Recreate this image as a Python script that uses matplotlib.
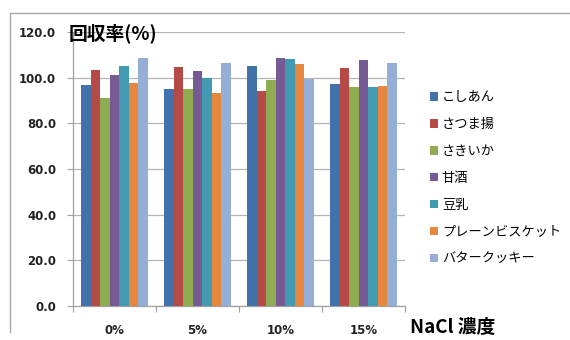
import matplotlib
matplotlib.use("Agg")
import matplotlib.pyplot as plt
from matplotlib.lines import Line2D
from matplotlib.patches import Patch
import numpy as np

plt.rcParams['font.family'] = ['Noto Sans CJK JP', 'DejaVu Sans']

categories = ["0%", "5%", "10%", "15%"]
series_names = ["こしあん", "さつま揚", "さきいか", "甘酒", "豆乳", "プレーンビスケット", "バタークッキー"]
koshian = [96.9, 95.2, 105.0, 97.4]
satsumaage = [103.4, 104.5, 94.0, 104.4]
sakiika = [90.9, 95.2, 99.0, 95.8]
amazake = [101.2, 102.8, 108.8, 107.8]
tounyu = [105.3, 99.9, 108.3, 95.8]
plain_biscuit = [97.7, 93.1, 106.0, 96.2]
butter_cookie = [108.6, 106.6, 99.3, 106.3]
series_values = [koshian, satsumaage, sakiika, amazake, tounyu, plain_biscuit, butter_cookie]
colors = ["#4272AC", "#B54A46", "#8FAD50", "#755A93", "#4199B2", "#E6873F", "#95AED6"]
y_ticks = [0, 20, 40, 60, 80, 100, 120]

fig = plt.figure(figsize=(5.7, 3.4), dpi=100)
ax = fig.add_axes([0.128, 0.1, 0.5825, 0.806])

n = len(series_names)
group_w = 0.8
bw = group_w / n
x = np.arange(len(categories))
for i, (name, vals, c) in enumerate(zip(series_names, series_values, colors)):
    ax.bar(x - group_w / 2 + bw * (i + 0.5), vals, width=bw, color=c, label=name,
           edgecolor='none', zorder=3)

ax.set_xlim(-0.5, len(categories) - 0.5)
ax.set_ylim(0, 120)
ax.set_yticks(y_ticks)
ax.set_yticklabels([f"{v:.1f}" for v in y_ticks], family='DejaVu Sans',
                   fontweight='bold', fontsize=8.5, color='#222222')
ax.yaxis.grid(True, color='#b4b4b4', linewidth=0.9, zorder=0)
ax.tick_params(axis='y', length=4, color='#a0a0a0', pad=8)

ax.set_xticks(np.arange(-0.5, len(categories)), minor=False)
ax.set_xticklabels([])
ax.set_xticks(x, minor=True)
ax.set_xticklabels(categories, minor=True, family='DejaVu Sans',
                   fontweight='bold', fontsize=8.5, color='#222222')
ax.tick_params(axis='x', which='major', length=4, color='#a0a0a0')
ax.tick_params(axis='x', which='minor', length=0, pad=13)

for s in ['top', 'right']:
    ax.spines[s].set_visible(False)
for s in ['left', 'bottom']:
    ax.spines[s].set_color('#a0a0a0')
    ax.spines[s].set_linewidth(0.9)

handles = [Patch(facecolor=c, edgecolor='none') for c in colors]
fig.legend(handles, series_names, loc='upper left', bbox_to_anchor=(0.745, 0.747),
           frameon=False, fontsize=9.5, handlelength=0.6, handleheight=0.6,
           handletextpad=0.3, labelspacing=1.05, borderaxespad=0)

fig.text(0.121, 0.903, "回収率(%)", fontsize=13.5, fontweight='bold',
         ha='left', va='center', color='black')
fig.text(0.72, 0.038, "NaCl 濃度", fontsize=13.5, fontweight='bold',
         ha='left', va='center', color='black')

# chart frame: top and left border lines
fig.add_artist(Line2D([0.0175, 1.0], [0.962, 0.962], transform=fig.transFigure,
                      color='#a8a8a8', linewidth=1.0))
fig.add_artist(Line2D([0.0175, 0.0175], [0.962, 0.025], transform=fig.transFigure,
                      color='#a8a8a8', linewidth=1.0))

fig.savefig("out.png", dpi=100)
